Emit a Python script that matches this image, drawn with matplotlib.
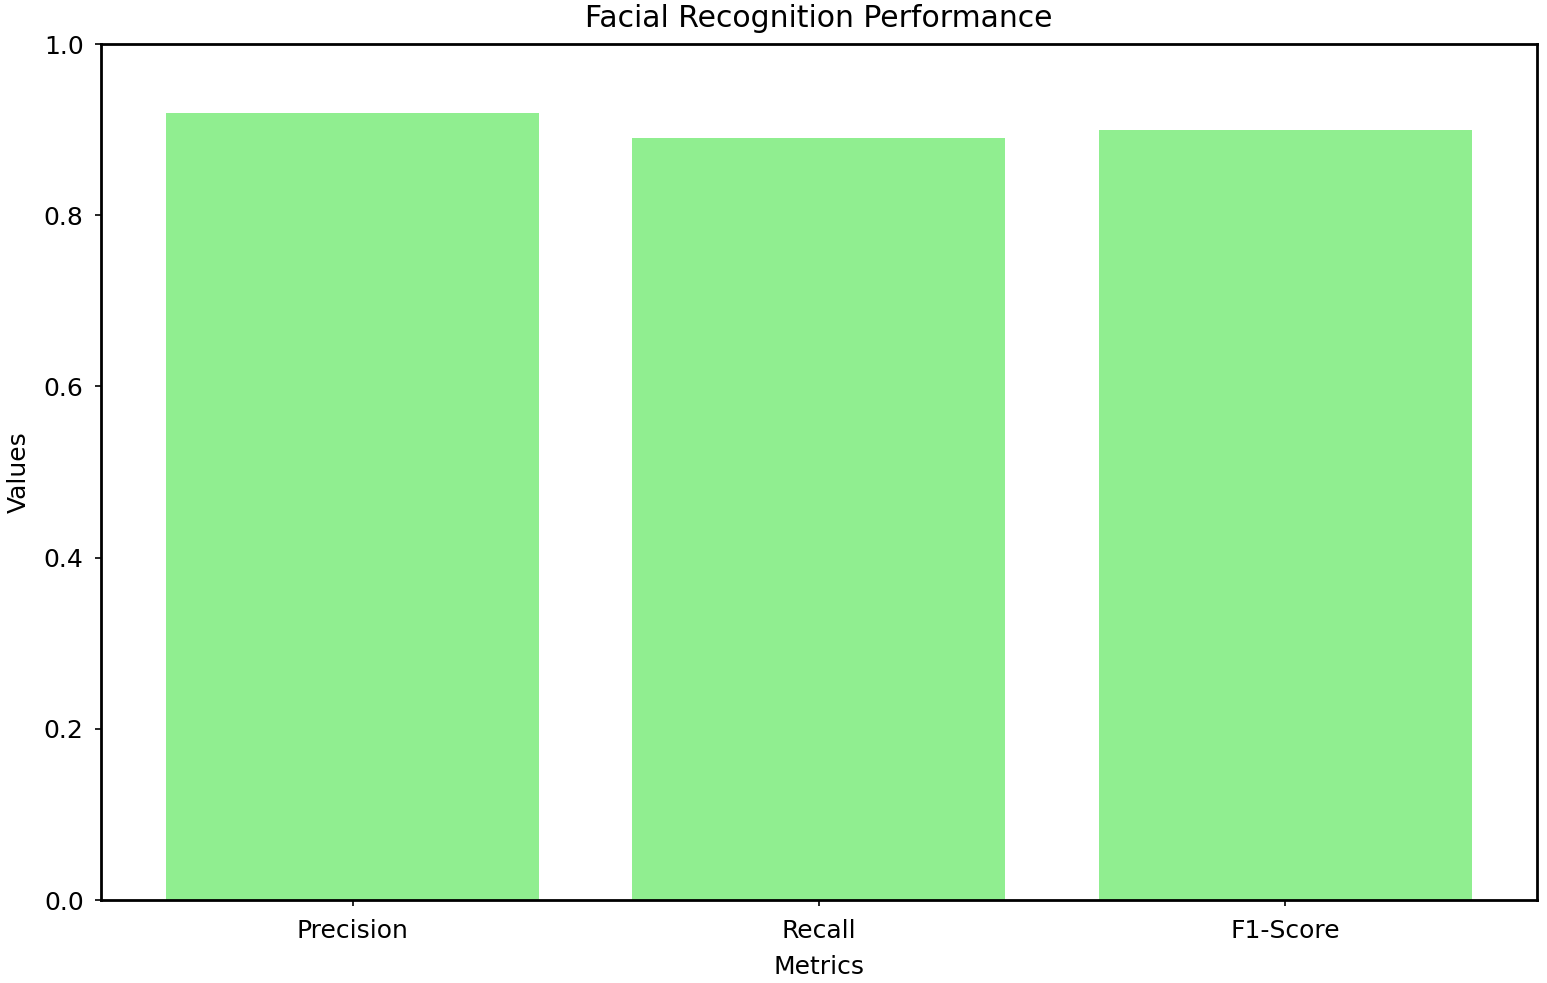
import matplotlib
matplotlib.use('Agg')
import matplotlib.pyplot as plt

# data
metrics = ['Precision', 'Recall', 'F1-Score']
values = [0.92, 0.89, 0.90]

fig, ax = plt.subplots(figsize=(15.47, 9.83), dpi=100)
fig.subplots_adjust(left=0.0653, right=0.9935, top=0.9552, bottom=0.0844)

ax.bar(metrics, values, color='lightgreen')
ax.set_ylim(0, 1)
ax.set_title('Facial Recognition Performance', fontsize=21.5, pad=12)
ax.set_xlabel('Metrics', fontsize=18, labelpad=8)
ax.set_ylabel('Values', fontsize=18, labelpad=9)
ax.tick_params(axis='x', labelsize=18, width=1.2, length=4.5, pad=9.5)
ax.tick_params(axis='y', labelsize=18, width=1.2, length=4.5, pad=8)
for s in ax.spines.values():
    s.set_linewidth(2)

plt.savefig('out.png', dpi=100)
